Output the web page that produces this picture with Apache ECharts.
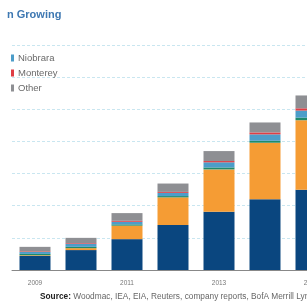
<!DOCTYPE html>
<html>
<head>
    <meta charset="UTF-8"/>
    <title>n Growing</title>
    <style>
        html, body { margin: 0; padding: 0; background: #fff; }
        #charts { width: 307px; height: 306px; }
    </style>
</head>
<body>
<div id="charts"></div>
<script src="https://cdn.jsdelivr.net/npm/echarts@6/dist/echarts.min.js"></script>
<script>
    // 年份 / 各产区产量
    var years = ['2009', '2010', '2011', '2012', '2013', '2014', '2015'];
    var bakken = [0.22, 0.31, 0.48, 0.70, 0.905, 1.10, 1.25];
    var eagleFord = [0.01, 0.03, 0.21, 0.43, 0.66, 0.88, 1.08];
    var permian = [0.02, 0.02, 0.02, 0.02, 0.03, 0.03, 0.04];
    var niobrara = [0.03, 0.05, 0.04, 0.05, 0.08, 0.10, 0.11];
    var monterey = [0.01, 0.01, 0.015, 0.015, 0.02, 0.03, 0.035];
    var other = [0.07, 0.08, 0.12, 0.13, 0.155, 0.155, 0.20];
    var legendNames = ['Niobrara', 'Monterey', 'Other'];

    var myChart = echarts.init(document.getElementById('charts'));

    function bar(name, data, color) {
        return {
            name: name,
            type: 'bar',
            stack: 'total',
            barWidth: 31,
            itemStyle: {color: color},
            data: data
        };
    }

    var option = {
        animation: false,
        textStyle: {fontFamily: 'Liberation Sans, Arial, sans-serif'},
        graphic: [
            {
                type: 'text',
                left: 7,
                top: 9,
                style: {
                    text: 'n Growing',
                    font: 'bold 11px "Liberation Sans", Arial, sans-serif',
                    fill: '#3e78b2'
                }
            },
            {
                type: 'text',
                left: 40,
                top: 293,
                style: {
                    text: '{b|Source:} Woodmac, IEA, EIA, Reuters, company reports, BofA Merrill Lynch Global Research',
                    font: '8.3px "Liberation Sans", Arial, sans-serif',
                    fill: '#666',
                    rich: {
                        b: {fontWeight: 'bold', fill: '#222', fontSize: 8.3}
                    }
                }
            }
        ],
        legend: {
            data: legendNames,
            orient: 'vertical',
            left: 6,
            top: 48,
            itemWidth: 3,
            itemHeight: 7,
            itemGap: 5,
            icon: 'rect',
            textStyle: {fontSize: 9.5, color: '#6a6a6a', padding: [0, 0, 0, -1]}
        },
        grid: {
            left: 12,
            top: 45,
            width: 322,
            height: 225,
            outerBoundsMode: 'none'
        },
        xAxis: {
            type: 'category',
            data: years,
            axisLine: {lineStyle: {color: '#888'}},
            axisTick: {interval: 1, length: 3, lineStyle: {color: '#888'}},
            axisLabel: {interval: 1, fontSize: 6.5, color: '#777', margin: 10}
        },
        yAxis: {
            type: 'value',
            min: 0,
            max: 3.5,
            interval: 0.5,
            axisLabel: {show: false},
            axisLine: {show: false},
            axisTick: {show: false},
            splitLine: {lineStyle: {color: '#c9e6f0', type: [3, 2], width: 1}}
        },
        series: [
            bar('Bakken', bakken, '#0a467f'),
            bar('Eagle Ford', eagleFord, '#f59c34'),
            bar('Permian', permian, '#1f8a6a'),
            bar('Niobrara', niobrara, '#4c9dc9'),
            bar('Monterey', monterey, '#df3d44'),
            bar('Other', other, '#8e8f93')
        ]
    };
    myChart.setOption(option);
</script>
</body>
</html>
